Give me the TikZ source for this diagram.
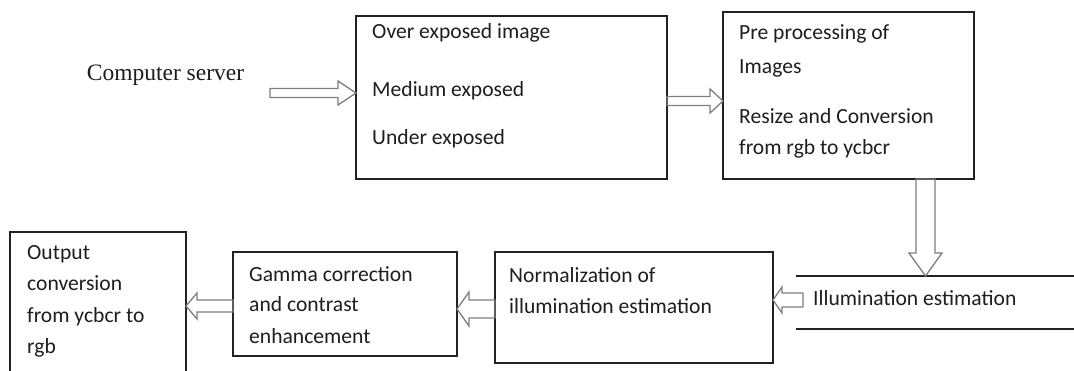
\documentclass[tikz,border=0pt]{standalone}
\usepackage{fontspec}
\setmainfont{Liberation Serif}
\newfontfamily\boxfont{Carlito}
\usetikzlibrary{calc}

\definecolor{boxline}{HTML}{222222}
\definecolor{ink}{HTML}{1E1E1E}
\definecolor{arrowgray}{HTML}{7E7E7E}

% horizontal block arrow: start point, target (x of tip), shaft half-height,
% head half-height, signed head length (negative points left)
\newcommand{\blockarrowH}[5]{%
  \draw[blockarrow] let \p1=(#1), \p2=(#2), \n1={#5} in
    ({\x1},{\y1+#3}) -- ({\x2-\n1},{\y1+#3}) -- ({\x2-\n1},{\y1+#4}) -- ({\x2},{\y1})
    -- ({\x2-\n1},{\y1-#4}) -- ({\x2-\n1},{\y1-#3}) -- ({\x1},{\y1-#3}) -- cycle;}
% downward block arrow: start point, target (y of tip), shaft half-width,
% head half-width, head length
\newcommand{\blockarrowV}[5]{%
  \draw[blockarrow] let \p1=(#1), \p2=(#2) in
    ({\x1+#3},{\y1}) -- ({\x1+#3},{\y2+#5}) -- ({\x1+#4},{\y2+#5}) -- ({\x1},{\y2})
    -- ({\x1-#4},{\y2+#5}) -- ({\x1-#3},{\y2+#5}) -- ({\x1-#3},{\y1}) -- cycle;}

\tikzset{
  box/.style={draw=boxline, line width=1.8pt, inner sep=0pt, outer sep=0pt},
  band/.style={inner sep=0pt, outer sep=0pt},
  txt/.style={anchor=base west, inner sep=0pt, text=ink,
    font=\boxfont\fontsize{21.6}{26}\selectfont},
  serif/.style={anchor=base, inner sep=0pt, text=ink,
    font=\fontsize{23.5}{28}\selectfont},
  blockarrow/.style={draw=arrowgray, line width=1.3pt, line join=miter},
  bandline/.style={draw=boxline, line width=1.8pt},
}

\begin{document}
\begin{tikzpicture}[x=1pt, y=-1pt]
\useasboundingbox (0,0) rectangle (1074,370);
\clip (0,0) rectangle (1074,370);
\fill[white] (0,0) rectangle (1074,370);

% source label
\node[serif] (cs) at (165.5,80) {Computer server};

% boxes
\node[box, minimum width=311, minimum height=163] (ex) at (511.5,97.5) {};
\node[box, minimum width=251, minimum height=167] (pre) at (848.5,95.5) {};
\node[band, minimum width=294, minimum height=53] (ill) at (943,302.5) {};
\node[box, minimum width=278, minimum height=111] (norm) at (634,307.5) {};
\node[box, minimum width=224, minimum height=104] (gam) at (345,304) {};
\node[box, minimum width=176, minimum height=168] (out) at (98,316) {};

% open-ended band for the estimation step
\draw[bandline] (ill.north west) -- (ill.north east);
\draw[bandline] (ill.south west) -- (ill.south east);

% box texts
\node[txt] (ex1) at (372,38) {Over exposed image};
\node[txt] (ex2) at (372,96) {Medium exposed};
\node[txt] (ex3) at (372,144) {Under exposed};

\node[txt] (pre1) at (739,39) {Pre processing of};
\node[txt] (pre2) at (739,73) {Images};
\node[txt] (pre3) at (739,123) {Resize and Conversion};
\node[txt] (pre4) at (739,154) {from rgb to ycbcr};

\node[txt] (ill1) at (813,305) {Illumination estimation};

\node[txt] (norm1) at (509,282) {Normalization of};
\node[txt] (norm2) at (509,313) {illumination estimation};

\node[txt] (gam1) at (249,281) {Gamma correction};
\node[txt] (gam2) at (249,311) {and contrast};
\node[txt] (gam3) at (249,343) {enhancement};

\node[txt] (out1) at (27,259) {Output};
\node[txt] (out2) at (27,290) {conversion};
\node[txt] (out3) at (27,322) {from ycbcr to};
\node[txt] (out4) at (27,353) {rgb};

% connectors
\coordinate (a1s) at (270,93);
\blockarrowH{a1s}{ex.west}{4.5pt}{12pt}{18pt}
\coordinate (a2s) at ($(ex.east)+(0,3.5)$);
\blockarrowH{a2s}{pre.west}{4.5pt}{12pt}{13pt}
\coordinate (a3s) at ($(pre.south)+(77,0)$);
\blockarrowV{a3s}{ill.north}{9.5pt}{16.5pt}{23pt}
\coordinate (a4s) at ($(ill.west)+(7,-2.5)$);
\blockarrowH{a4s}{norm.east}{7pt}{13pt}{-9pt}
\coordinate (a5s) at ($(norm.west)+(0,1.5)$);
\blockarrowH{a5s}{gam.east}{9pt}{17pt}{-12pt}
\coordinate (a6s) at ($(gam.west)+(0,2)$);
\blockarrowH{a6s}{out.east}{6pt}{13pt}{-11pt}
\end{tikzpicture}
\end{document}
